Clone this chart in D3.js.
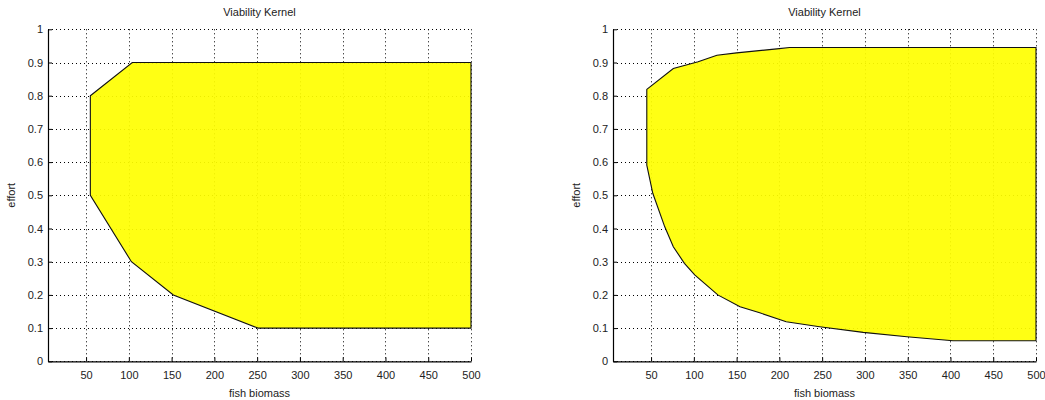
<!DOCTYPE html>
<html><head><meta charset="utf-8">
<script src="https://cdn.jsdelivr.net/npm/d3@7"></script>
<style>body{margin:0;background:#fff}svg{display:block}text{font-family:"Liberation Sans",Arial,sans-serif;fill:#222}</style>
</head><body>
<svg id="c" width="1045" height="400"></svg>
<script>
const xTicks = [50,100,150,200,250,300,350,400,450,500];
const yTicks = [0,0.1,0.2,0.3,0.4,0.5,0.6,0.7,0.8,0.9,1];
const xDomain = [5.5, 500];
const yDomain = [0, 1];
const titleText = "Viability Kernel";
const xLabel = "fish biomass";
const yLabel = "effort";
// left kernel polygon (biomass, effort)
const kernelLeftX = [55, 104, 500, 500, 251, 152, 103, 55];
const kernelLeftY = [0.8, 0.9, 0.9, 0.1, 0.1, 0.2, 0.3, 0.5];
// right kernel: upper boundary then lower boundary (reversed)
const upperX = [45, 76, 105, 127, 150, 197, 212, 500];
const upperY = [0.819, 0.882, 0.902, 0.922, 0.929, 0.941, 0.945, 0.945];
const lowerX = [500, 403, 349, 298, 247, 208, 177, 154, 128, 101, 89, 76, 66, 52, 45];
const lowerY = [0.062, 0.062, 0.074, 0.087, 0.104, 0.119, 0.146, 0.164, 0.2, 0.26, 0.295, 0.345, 0.405, 0.506, 0.591];

const svg = d3.select("#c");
const panels = [
  {x0:48, x1:471, xs: kernelLeftX, ys: kernelLeftY},
  {x0:613, x1:1036, xs: upperX.concat(lowerX), ys: upperY.concat(lowerY)}
];
const yTop = 29.3, yBot = 361.3;

panels.forEach(p => {
  const x = d3.scaleLinear().domain(xDomain).range([p.x0, p.x1]);
  const y = d3.scaleLinear().domain(yDomain).range([yBot, yTop]);
  const g = svg.append("g");
  // grid (dotted)
  const grid = g.append("g").attr("stroke","#000").attr("stroke-width",1).attr("stroke-dasharray","1,3");
  xTicks.forEach(t => grid.append("line").attr("x1",Math.round(x(t))+0.5).attr("x2",Math.round(x(t))+0.5).attr("y1",yTop).attr("y2",yBot));
  yTicks.forEach(t => grid.append("line").attr("y1",Math.round(y(t))+0.5).attr("y2",Math.round(y(t))+0.5).attr("x1",p.x0).attr("x2",p.x1));
  // kernel patch
  const pts = p.xs.map((v,i)=>[x(v), y(p.ys[i])]);
  g.append("path").attr("d", d3.line()(pts)+"Z")
    .attr("fill","#ffff00").attr("fill-opacity",0.92)
    .attr("stroke","#111").attr("stroke-width",1.1);
  // axes
  const ax = g.append("g").attr("transform",`translate(0,${yBot})`)
    .call(d3.axisBottom(x).tickValues(xTicks).tickSizeInner(-4).tickSizeOuter(0).tickPadding(10));
  const ay = g.append("g").attr("transform",`translate(${p.x0},0)`)
    .call(d3.axisLeft(y).tickValues(yTicks).tickFormat(d3.format("")).tickSizeInner(-4).tickSizeOuter(0).tickPadding(5));
  [ax, ay].forEach(a => {
    a.select(".domain").attr("stroke","#000").attr("stroke-width",1.2);
    a.selectAll(".tick line").attr("stroke","#000");
    a.selectAll(".tick text").attr("font-size",11).attr("fill","#222").attr("font-family","Liberation Sans, Arial, sans-serif");
  });
  const cx = (p.x0+p.x1)/2;
  g.append("text").attr("x",cx).attr("y",16).attr("text-anchor","middle").attr("font-size",11).text(titleText);
  g.append("text").attr("x",cx).attr("y",397).attr("text-anchor","middle").attr("font-size",11).text(xLabel);
  g.append("text").attr("transform",`translate(${p.x0-33},${(yTop+yBot)/2}) rotate(-90)`).attr("text-anchor","middle").attr("font-size",11).text(yLabel);
});
</script>
</body></html>
